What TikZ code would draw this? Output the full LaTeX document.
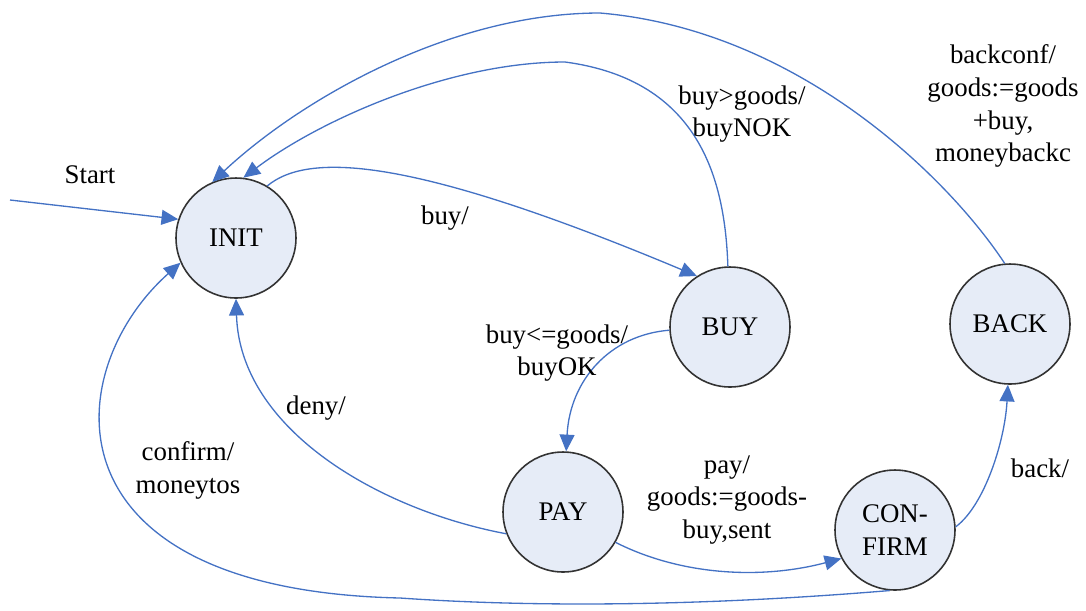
\documentclass[tikz,border=0pt]{standalone}
\usepackage{fontspec}
\setmainfont{Liberation Serif}
\newfontfamily\labelfont{Liberation Serif}
\usetikzlibrary{arrows.meta}

\definecolor{edgeblue}{RGB}{68,114,196}
\definecolor{statefill}{RGB}{230,236,247}

\begin{document}
\begin{tikzpicture}[x=0.02cm, y=-0.02cm,
    state/.style={circle, draw=black!80, line width=0.9pt, fill=statefill,
      minimum size=2.4cm, inner sep=0pt, align=center,
      font=\labelfont\fontsize{15.3}{18.7}\selectfont},
    trans/.style={draw=edgeblue, line width=0.75pt,
      -{Triangle[length=9.5pt,width=8.5pt]}},
    lbl/.style={align=center, inner sep=0pt,
      font=\labelfont\fontsize{15.3}{18.7}\selectfont}]
			\useasboundingbox (0,0) rectangle (1086,610);

			% Define the states
			\foreach \name/\pos/\text in {init/{(236,238)}/INIT, buy/{(730,327)}/BUY,
			    back/{(1010,324)}/BACK, pay/{(563,512)}/PAY, confirm/{(895,530)}/{CON-\\FIRM}}
			\node[state] (\name) at \pos {\text};

			\coordinate (s) at (10,200);

			% Draw the transitions
			\draw[trans] (s) -- (init.162);
			\draw[trans] (init.59) .. controls (310,150) and (420,160) .. (buy.123);
			\draw[trans] (buy.92) .. controls (725,180) and (700,80) .. (565,62)
			    .. controls (450,62) and (320,120) .. (init.83);
			\draw[trans] (back.95) .. controls (950,180) and (800,30) .. (600,13)
			    .. controls (450,13) and (300,100) .. (init.113);
			\draw[trans] (buy.183) .. controls (610,335) and (570,380) .. (pay.87);
			\draw[trans] (pay.201) .. controls (380,510) and (240,430) .. (init.270);
			\draw[trans] (pay.330) .. controls (680,575) and (760,580) .. (confirm.208);
			\draw[trans] (confirm.3) .. controls (985,505) and (1005,440) .. (back.268);
			\draw[trans] (confirm.265) .. controls (800,598) and (600,612) .. (400,598)
			    .. controls (40,590) and (60,370) .. (init.204);

			% Labels
			\node[lbl] (lstart) at (90,175) {Start};
			\node[lbl] (lbuy) at (445,218) {buy/};
			\node[lbl] (lnok) at (742,114) {buy>goods/\\buyNOK};
			\node[lbl] (lbackconf) at (1003,106) {backconf/\\goods:=goods\\+buy,\\moneybackc};
			\node[lbl] (lok) at (557,353) {buy<=goods/\\buyOK};
			\node[lbl] (ldeny) at (316,408) {deny/};
			\node[lbl] (lconfirm) at (188,470) {confirm/\\moneytos};
			\node[lbl] (lpay) at (727,500) {pay/\\goods:=goods-\\buy,sent};
			\node[lbl] (lback) at (1040,468) {back/};
\end{tikzpicture}
\end{document}
